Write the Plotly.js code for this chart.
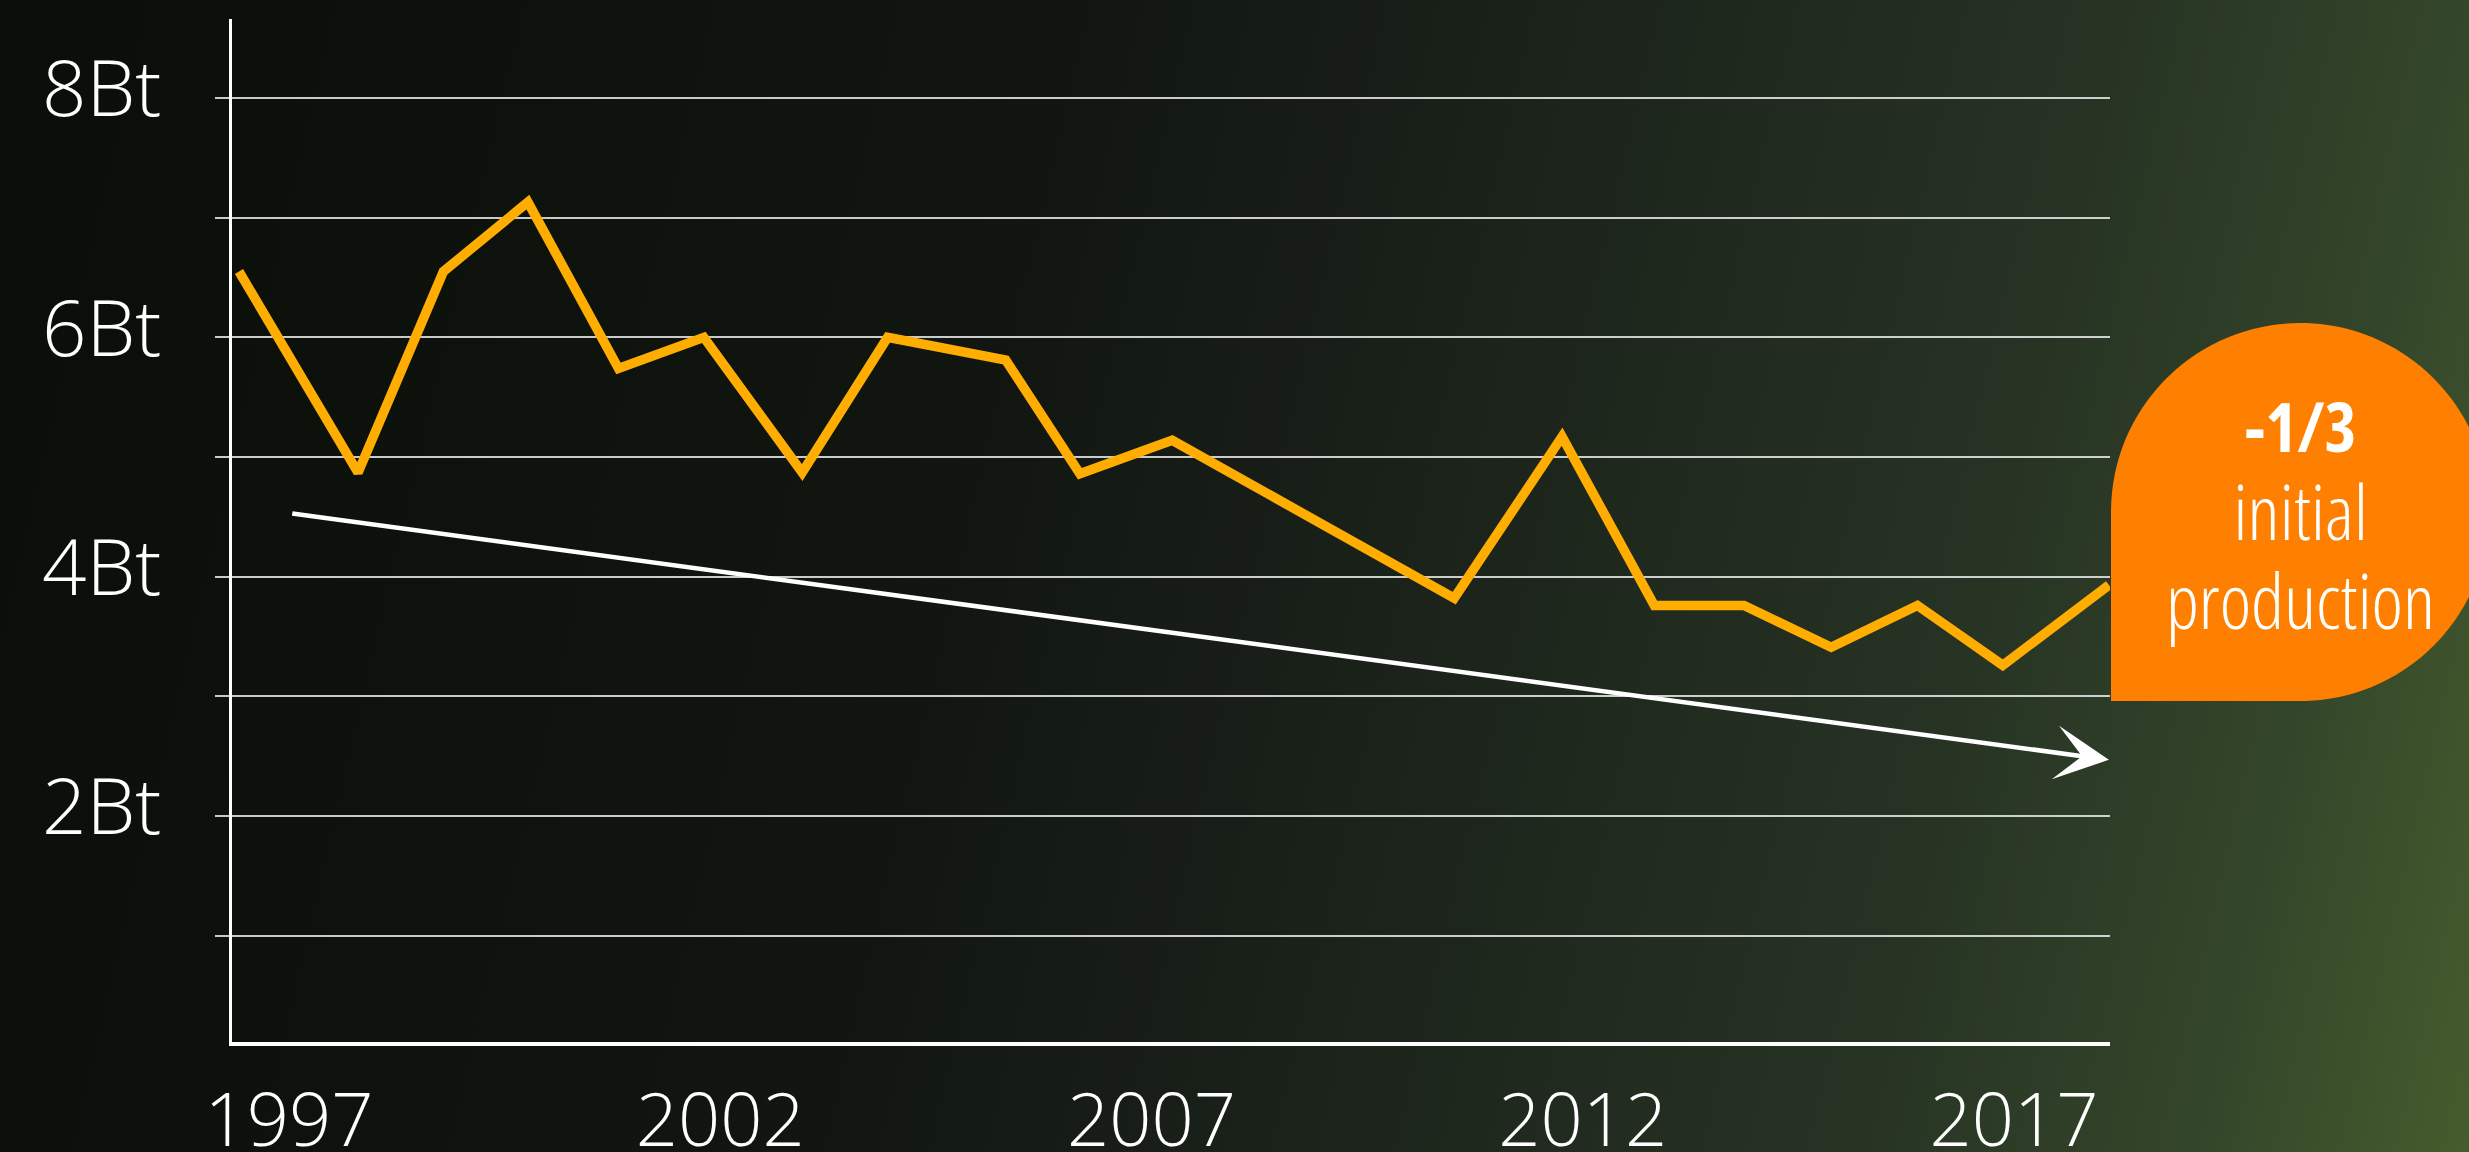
<!DOCTYPE html>
<html>
<head>
<meta charset="utf-8">
<script src="https://cdn.plot.ly/plotly-3.0.1.min.js"></script>
<style>
  html, body { margin: 0; padding: 0; }
  body {
    width: 2469px; height: 1152px; overflow: hidden;
    background: linear-gradient(103deg, #0a0e09 0%, #111611 40%, #1a2119 55%, #273424 78%, #34462a 90%, #455c2d 100%);
  }
  #chart { width: 2469px; height: 1152px; }
  .annotation-text { font-stretch: 75%; }
</style>
</head>
<body>
<div id="chart"></div>
<script>
// ---- data ----
const years = [1996.42, 1997.80, 1998.79, 1999.77, 2000.82, 2001.81, 2002.95, 2003.94, 2005.31, 2006.17, 2007.24, 2010.51, 2011.76, 2012.83, 2013.87, 2014.88, 2015.88, 2016.87, 2018.10];
const production = [6.55, 4.87, 6.55, 7.13, 5.74, 6.00, 4.87, 6.00, 5.81, 4.86, 5.14, 3.82, 5.17, 3.76, 3.76, 3.41, 3.76, 3.26, 3.93];
const trendYears = [1997.02, 2018.10];
const trendValues = [4.53, 2.47];
const xTickVals = [1997, 2002, 2007, 2012, 2017];
const xTickText = ['1997', '2002', '2007', '2012', '2017'];
const yTickVals = [1, 2, 3, 4, 5, 6, 7, 8];
const yTickText = ['', '2Bt', '', '4Bt', '', '6Bt', '', '8Bt'];
const badgeLines = ['-1/3', 'initial', 'production'];

// ---- layout geometry (pixels) ----
const W = 2469, H = 1152;
const M = { l: 232, r: 359, t: 19, b: 110 };
const PW = W - M.l - M.r, PH = H - M.t - M.b;
const px = x => (x - M.l) / PW;
const py = y => (H - M.b - y) / PH;

// badge: square with three rounded corners (bottom-left square)
const bL = 2111, bT = 323, bS = 378, r = bS / 2, k = 0.5523 * r;
const cx = bL + r, cy = bT + r, bR = bL + bS, bB = bT + bS;
const P = (x, y) => px(x).toFixed(5) + ',' + py(y).toFixed(5);
const badgePath = 'M' + P(bL, bB) + ' L' + P(bL, cy) +
  ' C' + P(bL, cy - k) + ' ' + P(cx - k, bT) + ' ' + P(cx, bT) +
  ' C' + P(cx + k, bT) + ' ' + P(bR, cy - k) + ' ' + P(bR, cy) +
  ' C' + P(bR, cy + k) + ' ' + P(cx + k, bB) + ' ' + P(cx, bB) + ' Z';

const badgeText = '<b>' + badgeLines[0] + '</b><br>' +
  '<span style="font-size:75px">' + badgeLines[1] + '</span><br>' +
  '<span style="font-size:75px">' + badgeLines[2] + '</span>';

const lightFont = { family: "'Open Sans', sans-serif", color: '#ffffff', weight: 300 };

const traces = [{
  x: years, y: production, type: 'scatter', mode: 'lines',
  line: { color: '#ffad00', width: 9.5 },
  hoverinfo: 'skip', cliponaxis: false
}];

const layout = {
  width: W, height: H,
  margin: { l: M.l, r: M.r, t: M.t, b: M.b, pad: 0 },
  paper_bgcolor: 'rgba(0,0,0,0)', plot_bgcolor: 'rgba(0,0,0,0)',
  showlegend: false,
  xaxis: {
    range: [1996.339, 2018.113], fixedrange: true,
    tickvals: xTickVals, ticktext: xTickText,
    showgrid: false, zeroline: false,
    showline: true, linecolor: '#ffffff', linewidth: 4,
    ticks: '', ticklabelstandoff: 11,
    tickfont: Object.assign({ size: 74 }, lightFont)
  },
  yaxis: {
    range: [0.112, 8.66], fixedrange: true,
    tickvals: yTickVals, ticktext: yTickText,
    showgrid: true, gridcolor: 'rgba(235,235,235,0.85)', gridwidth: 2,
    zeroline: false,
    showline: true, linecolor: '#ffffff', linewidth: 3,
    ticks: 'outside', ticklen: 14, tickwidth: 2, tickcolor: 'rgba(235,235,235,0.85)',
    ticklabelstandoff: 38, ticklabelshift: -9,
    tickfont: Object.assign({ size: 78 }, lightFont)
  },
  shapes: [{
    type: 'path', xref: 'paper', yref: 'paper', path: badgePath,
    fillcolor: '#ff8000', line: { width: 0 }, layer: 'above'
  }],
  annotations: [
    {
      x: trendYears[1], y: trendValues[1], ax: trendYears[0], ay: trendValues[0],
      xref: 'x', yref: 'y', axref: 'x', ayref: 'y', text: '',
      showarrow: true, arrowhead: 3, arrowsize: 2, arrowwidth: 4.5,
      arrowcolor: '#ffffff', standoff: 0, startstandoff: 0
    },
    {
      x: px(cx), y: py(515), xref: 'paper', yref: 'paper', text: badgeText,
      showarrow: false, xanchor: 'center', yanchor: 'middle', align: 'center',
      font: Object.assign({ size: 68 }, lightFont)
    }
  ]
};

Plotly.newPlot('chart', traces, layout, { displayModeBar: false, staticPlot: true });
</script>
</body>
</html>
